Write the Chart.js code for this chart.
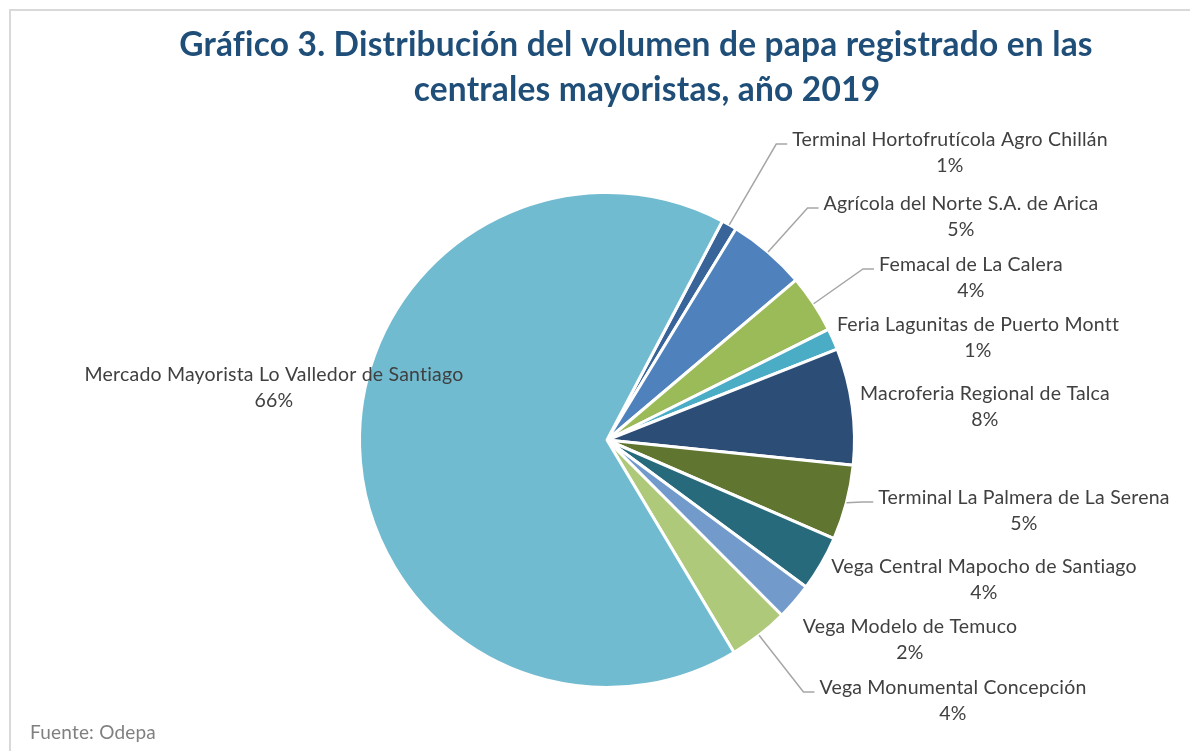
<!DOCTYPE html>
<html lang="es">
<head>
<meta charset="utf-8">
<title>Distribución del volumen de papa 2019</title>
<script src="https://cdn.jsdelivr.net/npm/chart.js@4/dist/chart.umd.min.js"></script>
<style>
  html, body { margin: 0; padding: 0; background: #fff; }
  #wrap { position: relative; width: 1190px; height: 751px; overflow: hidden; }
  #frame { position: absolute; left: 9px; top: 9px; right: 0; bottom: 0;
           border-top: 2px solid #d9d9d9; border-left: 2px solid #d9d9d9; }
  #mychart { position: absolute; left: 0; top: 0; }
</style>
</head>
<body>
<div id="wrap">
  <div id="frame"></div>
  <canvas id="mychart" width="1190" height="751"></canvas>
</div>
<script>
// Datos
const centrales = [
  "Terminal Hortofrutícola Agro Chillán",
  "Agrícola del Norte S.A. de Arica",
  "Femacal de La Calera",
  "Feria Lagunitas de Puerto Montt",
  "Macroferia Regional de Talca",
  "Terminal La Palmera de La Serena",
  "Vega Central Mapocho de Santiago",
  "Vega Modelo de Temuco",
  "Vega Monumental Concepción",
  "Mercado Mayorista Lo Valledor de Santiago"
];
const volumen = [1.0, 5.1, 3.8, 1.4, 7.6, 4.9, 3.6, 2.4, 3.9, 66.3];

const titulo = [
  "Gráfico 3. Distribución del volumen de papa registrado en las",
  "centrales mayoristas, año 2019"
];
const fuente = "Fuente: Odepa";

// Estilo
const colores = [
  "#386499", "#4f81bd", "#9bbb59", "#4bacc6", "#2c4d75",
  "#5f7530", "#276a7c", "#729aca", "#afc97a", "#70bbd0"
];

// Posición de cada etiqueta: centro x, y de la primera línea, con línea guía o no
const posEtiquetas = [
  { x: 950, y: 140, guia: true },
  { x: 961, y: 204, guia: true },
  { x: 971, y: 265, guia: true },
  { x: 978, y: 325, guia: false },
  { x: 985, y: 394, guia: false },
  { x: 1024, y: 498, guia: true },
  { x: 984, y: 567, guia: false },
  { x: 910, y: 627, guia: false },
  { x: 953, y: 688, guia: true },
  { x: 274, y: 375, guia: false }
];

const FAMILIA = "Lato, 'Open Sans', sans-serif";

// Título, fuente y etiquetas de datos
const textos = {
  id: "textos",
  afterDraw(chart) {
    const c = chart.ctx;
    c.save();
    // evita ligaduras (ti, fi) de Lato
    c.letterSpacing = "0.2px";

    // Título en dos líneas
    c.fillStyle = "#1f4e79";
    c.textBaseline = "alphabetic";
    c.textAlign = "center";
    let size = 30;
    c.font = "bold " + size + "px " + FAMILIA;
    size = size * 915 / c.measureText(titulo[0]).width;
    c.font = "bold " + size.toFixed(2) + "px " + FAMILIA;
    c.fillText(titulo[0], 636, 56);
    c.fillText(titulo[1], 647, 101);

    // Fuente
    c.textAlign = "left";
    c.fillStyle = "#808080";
    c.font = "19px " + FAMILIA;
    c.fillText(fuente, 30, 739);

    // Etiquetas
    const arcs = chart.getDatasetMeta(0).data;
    const total = volumen.reduce((a, b) => a + b, 0);
    c.font = "19.5px " + FAMILIA;
    c.textAlign = "center";
    c.textBaseline = "middle";
    arcs.forEach((arc, i) => {
      const p = posEtiquetas[i];
      const pct = Math.round(volumen[i] / total * 100) + "%";
      if (p.guia) {
        const mid = (arc.startAngle + arc.endAngle) / 2;
        const x0 = arc.x + Math.cos(mid) * arc.outerRadius;
        const y0 = arc.y + Math.sin(mid) * arc.outerRadius;
        const left = p.x - c.measureText(centrales[i]).width / 2;
        c.strokeStyle = "#a6a6a6";
        c.lineWidth = 1.5;
        c.beginPath();
        c.moveTo(x0, y0);
        c.lineTo(left - 16, p.y + 4);
        c.lineTo(left - 5, p.y + 4);
        c.stroke();
      }
      c.fillStyle = "#404040";
      c.fillText(centrales[i], p.x, p.y);
      c.fillText(pct, p.x, p.y + 26);
    });
    c.restore();
  }
};

const ctx = document.getElementById("mychart").getContext("2d");
const mychart = new Chart(ctx, {
  type: "pie",
  data: {
    labels: centrales,
    datasets: [
      {
        data: volumen,
        backgroundColor: colores,
        borderColor: "#ffffff",
        borderWidth: 3,
      },
    ],
  },
  options: {
    responsive: false,
    animation: false,
    events: [],
    rotation: 27.8,
    layout: { padding: { top: 191, bottom: 62, left: 24, right: 0 } },
    plugins: {
      legend: { display: false },
      title: { display: false },
      tooltip: { enabled: false },
    },
  },
  plugins: [textos],
});
</script>
</body>
</html>
